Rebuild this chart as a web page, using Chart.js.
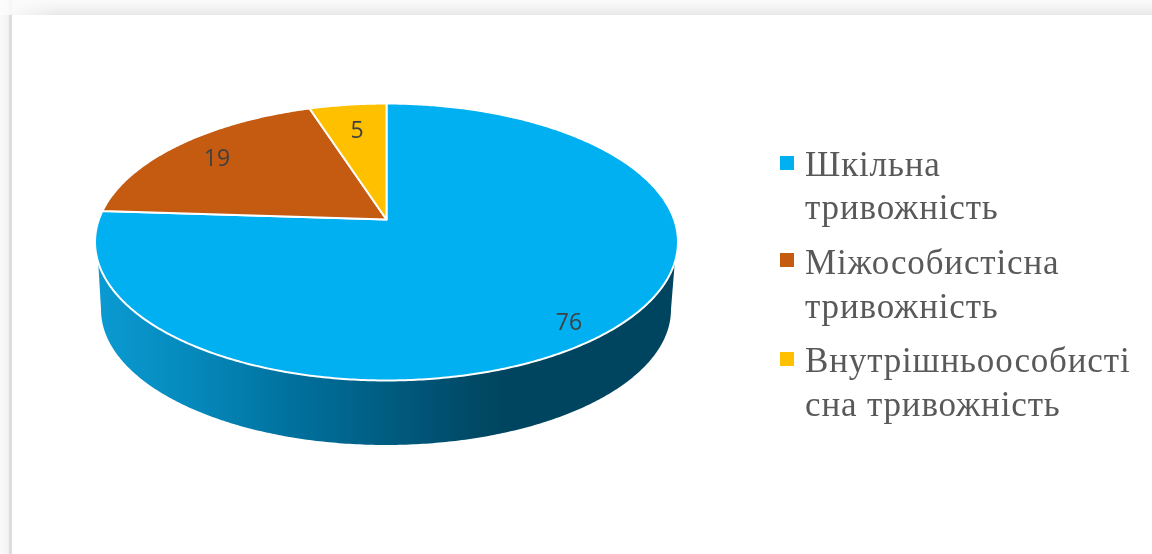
<!DOCTYPE html>
<html lang="uk"><head><meta charset="utf-8">
<style>
html,body{margin:0;padding:0;background:#fff;width:1152px;height:554px;overflow:hidden}
#top{position:absolute;left:0;top:0;width:1152px;height:15px;background:linear-gradient(to bottom,#fbfbfb 0,#f1f1f1 60%,#ebebeb 86%,#e6e6e6 100%)}
#left{position:absolute;left:0;top:0;width:12px;height:554px;background:linear-gradient(to right,#fafafa 0,#f2f2f2 70%,#dedede 78%,#dcdcdc 100%)}
#fade{position:absolute;left:0;top:0;width:60px;height:15px;background:linear-gradient(to right,#fcfcfc,rgba(252,252,252,0))}
canvas{position:absolute;left:0;top:0;filter:blur(.45px)}
</style>
<script src="https://cdn.jsdelivr.net/npm/chart.js@4/dist/chart.umd.min.js"></script>
</head><body>
<div id="top"></div><div id="left"></div><div id="fade"></div>
<canvas id="c" width="1152" height="554"></canvas>
<script>
const categories = [['Шкільна','тривожність'],['Міжособистісна','тривожність'],['Внутрішньоособисті','сна тривожність']];
const values = [76, 19, 5];
const colors = ['#00B0F0', '#C55A11', '#FFC000'];

// Perspective view of the pie disc: maps a point of the unit circle to the page.
const topFace = {cx:386.5, y0:219.5, R:287.6, b:134.8, k:-0.1625};
const baseFace = {cx:386, y0:287.6, R:281.2, b:131.8, k:-0.1625};
function project(f, r, a){
  const u = r*Math.cos(a), v = r*Math.sin(a), w = 1 + f.k*v;
  return [f.cx + f.R*u/w, f.y0 + f.b*v/w];
}
function arcPath(ctx, f, a0, a1, first){
  const n = Math.max(2, Math.ceil(Math.abs(a1-a0)/0.01));
  for(let i=0;i<=n;i++){
    const p = project(f,1,a0+(a1-a0)*i/n);
    if(i===0 && first) ctx.moveTo(p[0],p[1]); else ctx.lineTo(p[0],p[1]);
  }
}
const persp3d = {
  id:'persp3d',
  beforeDatasetsDraw(chart){
    const ctx = chart.ctx, arcs = chart.getDatasetMeta(0).data;
    // side wall
    const aR = Math.asin(0.303), aL = Math.PI-aR;
    const bR = Math.asin(0.1625), bL = Math.PI-bR;
    const g = ctx.createLinearGradient(96,0,678,0);
    [[0,'#0A9BD2'],[0.18,'#0587B9'],[0.35,'#006F9B'],[0.52,'#005A7E'],[0.66,'#004864'],[0.7,'#004560'],[1,'#004560']]
      .forEach(s=>g.addColorStop(s[0],s[1]));
    ctx.save();
    ctx.beginPath();
    arcPath(ctx,topFace,aR,aL,true);
    arcPath(ctx,baseFace,bL,bR,false);
    ctx.closePath();
    ctx.fillStyle = g; ctx.fill();
    ctx.restore();
    // top face
    arcs.forEach((el,i)=>{
      const c = project(topFace,0,0);
      ctx.save();
      ctx.beginPath();
      ctx.moveTo(c[0],c[1]);
      arcPath(ctx,topFace,el.startAngle,el.endAngle,false);
      ctx.closePath();
      ctx.fillStyle = colors[i]; ctx.fill();
      ctx.strokeStyle = '#fff'; ctx.lineWidth = 2; ctx.lineJoin='round';
      ctx.stroke();
      ctx.restore();
    });
    return false;
  },
  afterDraw(chart){
    const ctx = chart.ctx;
    ctx.save();
    // data labels
    const labelAt = [[569,323],[217,159],[357,131]];
    ctx.font = '23px "Open Sans"'; ctx.fillStyle='#404040';
    ctx.textAlign='center'; ctx.textBaseline='middle';
    values.forEach((v,i)=>ctx.fillText(String(v),labelAt[i][0],labelAt[i][1]));
    // legend
    const blocks = [[176,219],[274,318],[372,416]];
    const keyY = [156,253,352];
    ctx.textAlign='left'; ctx.textBaseline='alphabetic';
    ctx.font = '35px "Liberation Serif"';
    ctx.letterSpacing = '0.85px';
    categories.forEach((lines,i)=>{
      ctx.fillStyle = colors[i];
      ctx.fillRect(780,keyY[i],14,14);
      ctx.fillStyle = '#595959';
      lines.forEach((t,j)=>ctx.fillText(t,805,blocks[i][j]));
    });
    ctx.restore();
  }
};
new Chart(document.getElementById('c'),{
  type:'pie',
  data:{labels:categories,datasets:[{data:values,backgroundColor:colors}]},
  options:{responsive:false,animation:false,plugins:{legend:{display:false},tooltip:{enabled:false}},events:[]},
  plugins:[persp3d]
});
</script>
</body></html>
